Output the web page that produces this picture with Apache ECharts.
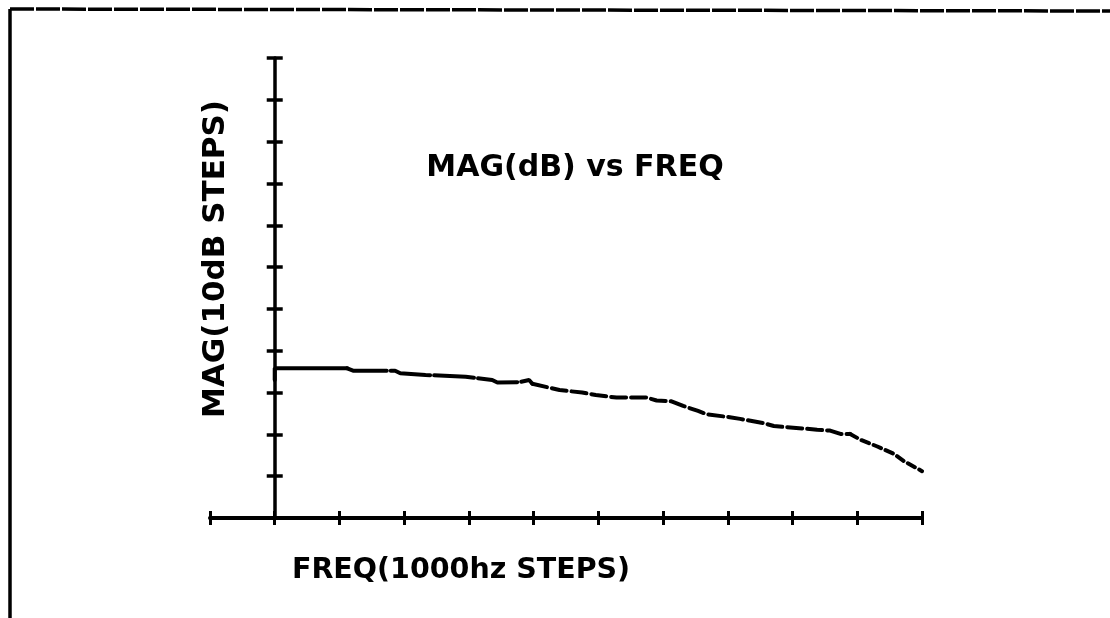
<!DOCTYPE html>
<html>
<head>
<meta charset="utf-8">
<script src="https://cdn.jsdelivr.net/npm/echarts@6/dist/echarts.min.js"></script>
<style>
html,body{margin:0;padding:0;background:#fff;}
#chart{width:1110px;height:618px;}
</style>
</head>
<body>
<div id="chart"></div>
<script>
// Frequency in 1000 Hz steps, magnitude in 10 dB steps
const freqSteps = [0, 0, 1.12, 1.22, 1.86, 1.94, 2.33, 2.95, 3.36, 3.44, 3.78, 3.93, 3.98,
  4.40, 4.75, 4.96, 5.28, 5.74, 5.90, 6.13, 6.31, 6.54, 6.68, 7.03, 7.19, 7.55, 7.71, 8.17, 8.38, 8.58, 8.74, 8.89,
  9.05, 9.31, 9.57, 9.72, 10.0];
const magSteps = [3.30, 3.58, 3.58, 3.52, 3.52, 3.46, 3.42, 3.38, 3.30, 3.24, 3.25, 3.30, 3.21,
  3.06, 3.00, 2.94, 2.88, 2.88, 2.81, 2.79, 2.68, 2.56, 2.48, 2.41, 2.37, 2.27, 2.20, 2.14, 2.11, 2.09, 2.01, 2.01,
  1.87, 1.71, 1.53, 1.36, 1.12];
// indices where the pen style changes (solid, long dash, dash, short dash)
const segmentBreaks = [0, 2, 12, 31, 36];
const segmentDashes = ['solid', [40, 4], [15, 5], [8, 5]];

const xTitle = 'FREQ(1000hz STEPS)';
const yTitle = 'MAG(10dB STEPS)';
const chartTitle = 'MAG(dB) vs FREQ';

const points = freqSteps.map((f, i) => [f, magSteps[i]]);
const series = [];
for (let s = 0; s < segmentDashes.length; s++) {
  series.push({
    type: 'line',
    data: points.slice(segmentBreaks[s], segmentBreaks[s + 1] + 1),
    showSymbol: false,
    symbol: 'none',
    animation: false,
    silent: true,
    lineStyle: { color: '#000', width: 4, type: segmentDashes[s], cap: 'round' }
  });
}

const font = 'bold {S}px "DejaVu Sans", sans-serif';
const chart = echarts.init(document.getElementById('chart'), null, { renderer: 'canvas' });
const axisCommon = {
  type: 'value',
  interval: 1,
  axisLabel: { show: false },
  splitLine: { show: false }
};
chart.setOption({
  backgroundColor: '#fff',
  animation: false,
  grid: { left: 210, right: 188, top: 58, bottom: 100, containLabel: false },
  xAxis: [
    Object.assign({}, axisCommon, {
      min: -1, max: 10, position: 'bottom',
      axisLine: { show: true, onZero: false, lineStyle: { color: '#000', width: 4 } },
      axisTick: { show: true, inside: false, length: 7, lineStyle: { color: '#000', width: 3 } }
    }),
    Object.assign({}, axisCommon, {
      min: -1, max: 10, position: 'bottom',
      axisLine: { show: false, onZero: false },
      axisTick: { show: true, inside: true, length: 7, lineStyle: { color: '#000', width: 3 } }
    })
  ],
  yAxis: [
    Object.assign({}, axisCommon, {
      min: 0, max: 11, position: 'left',
      axisLine: { show: true, onZero: true, onZeroAxisIndex: 0, lineStyle: { color: '#000', width: 3.5 } },
      axisTick: { show: true, inside: false, length: 8, lineStyle: { color: '#000', width: 3.5 } }
    }),
    Object.assign({}, axisCommon, {
      min: 0, max: 11, position: 'left',
      axisLine: { show: false, onZero: true, onZeroAxisIndex: 0 },
      axisTick: { show: true, inside: true, length: 8, lineStyle: { color: '#000', width: 3.5 } }
    })
  ],
  series: series,
  graphic: [
    { type: 'polyline', silent: true, shape: { points: [[10, 618], [10, 9]] },
      style: { stroke: '#000', lineWidth: 3.5, fill: null } },
    { type: 'polyline', silent: true, shape: { points: [[10, 9], [1110, 11]] },
      style: { stroke: '#000', lineWidth: 3.5, fill: null, lineDash: [24, 2] } },
    { type: 'text', silent: true, x: 575, y: 168,
      style: { text: chartTitle, font: font.replace('{S}', 30), fill: '#000', textAlign: 'center', textVerticalAlign: 'middle' } },
    { type: 'text', silent: true, x: 461, y: 571,
      style: { text: xTitle, font: font.replace('{S}', 28.5), fill: '#000', textAlign: 'center', textVerticalAlign: 'middle' } },
    { type: 'text', silent: true, x: 216, y: 259, rotation: Math.PI / 2,
      style: { text: yTitle, font: font.replace('{S}', 31), fill: '#000', textAlign: 'center', textVerticalAlign: 'middle' } }
  ]
});
</script>
</body>
</html>
